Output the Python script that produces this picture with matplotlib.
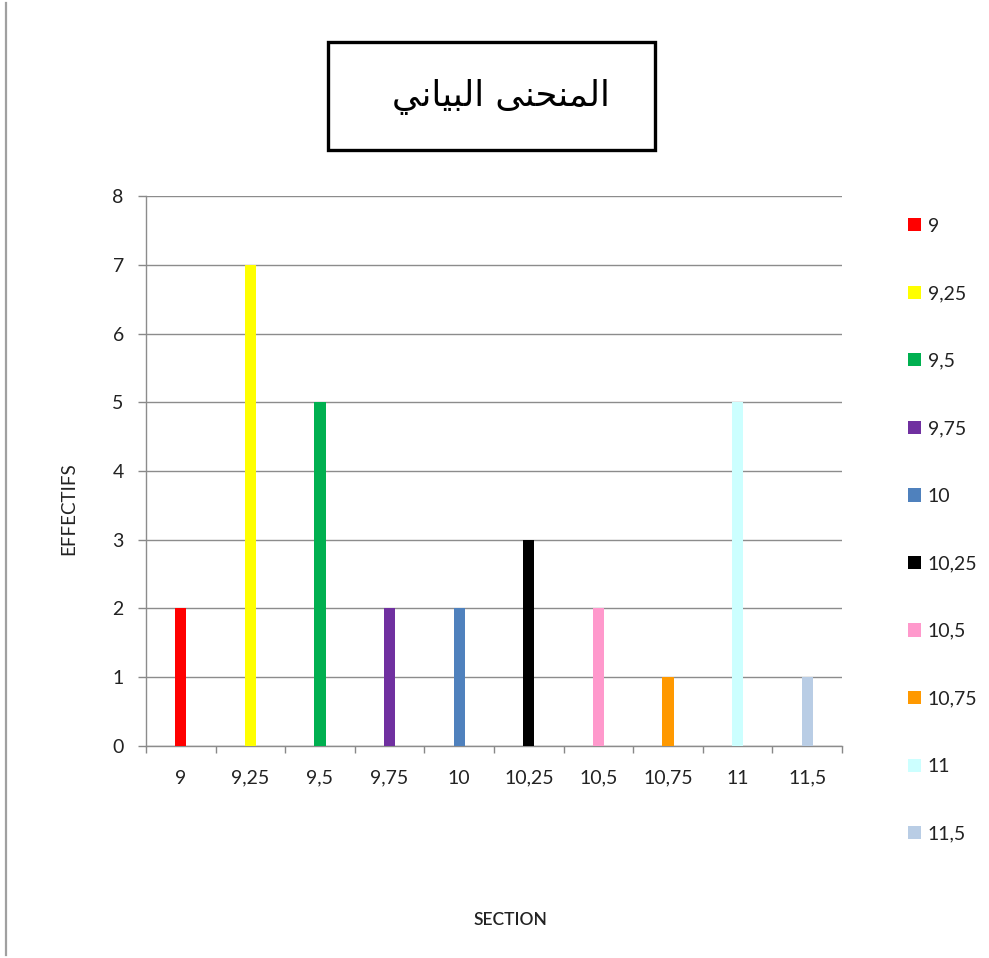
import matplotlib
matplotlib.use("Agg")
import matplotlib.pyplot as plt
from matplotlib.patches import Rectangle
from matplotlib.lines import Line2D

categories = ["9", "9,25", "9,5", "9,75", "10", "10,25", "10,5", "10,75", "11", "11,5"]
values = [2, 7, 5, 2, 2, 3, 2, 1, 5, 1]
colors = ["#FF0000", "#FFFF00", "#00B050", "#7030A0", "#4F81BD",
          "#000000", "#FF99CC", "#FF9900", "#CCFFFF", "#B9CDE5"]
y_ticks = [0, 1, 2, 3, 4, 5, 6, 7, 8]
title_logical = "المنحنى البياني"
x_label = "SECTION"
y_label = "EFFECTIFS"

# Hand-shaped Arabic title (presentation forms, visual order)
word1 = "\uFE8D\uFEDF\uFEE4\uFEE8\uFEA4\uFEE8\uFEF0"   # المنحنى
word2 = "\uFE8D\uFEDF\uFE92\uFEF4\uFE8E\uFEE7\uFEF2"   # البياني
title_visual = (word1 + " " + word2)[::-1]

font = "Lato"
fs = 14
fig = plt.figure(figsize=(9.89, 9.58), dpi=100)
ax = fig.add_axes([0.1476, 0.2213, 0.8514 - 0.1476, 0.7954 - 0.2213])

x = list(range(len(categories)))
bars = []
for i, (v, c, lab) in enumerate(zip(values, colors, categories)):
    b = ax.bar(i, v, width=0.16, color=c, label=lab, zorder=3)
    bars.append(b)

ax.set_xlim(-0.5, len(categories) - 0.5)
ax.set_ylim(0, 8)
ax.set_yticks(y_ticks)
ax.set_xticks(x)
ax.set_xticklabels(categories, fontfamily=font, fontsize=fs)
ax.set_yticklabels([str(t) for t in y_ticks], fontfamily=font, fontsize=fs)
ax.set_xticks([i - 0.5 for i in range(len(categories) + 1)], minor=True)
ax.tick_params(axis="x", which="major", length=0, pad=17, labelcolor="#222222")
ax.tick_params(axis="x", which="minor", length=5, color="#888888", width=1)
ax.tick_params(axis="y", length=6, color="#888888", width=1, pad=10, labelcolor="#222222")
ax.yaxis.grid(True, color="#8C8C8C", linewidth=1, zorder=0)
ax.set_axisbelow(True)
for s in ["top", "right"]:
    ax.spines[s].set_visible(False)
for s in ["left", "bottom"]:
    ax.spines[s].set_color("#8C8C8C")
    ax.spines[s].set_linewidth(1)

fig.text(510 / 989, 1 - 920 / 958, x_label, ha="center", va="center",
         fontfamily=font, fontsize=12.5, fontweight="semibold", color="#222222")
fig.text(69 / 989, 1 - 509 / 958, y_label, ha="center", va="center",
         rotation=90, fontfamily=font, fontsize=13.5, color="#222222")

leg = fig.legend(handles=[b[0] for b in bars], labels=categories,
                 loc="upper left", bbox_to_anchor=(890 / 989, 1 - 200 / 958),
                 frameon=False, handlelength=0.67, handleheight=0.67,
                 handletextpad=0.36, labelspacing=2.6,
                 prop={"family": font, "size": fs})
for t in leg.get_texts():
    t.set_color("#222222")

# Title box
fig.add_artist(Rectangle((328 / 989, 1 - 150 / 958), 327 / 989, 108 / 958,
                         transform=fig.transFigure, fill=False,
                         edgecolor="black", linewidth=2.4))
fig.text(501 / 989, 1 - 97 / 958, title_visual, ha="center", va="center",
         fontfamily="DejaVu Sans", fontsize=25.5, color="black")

# Left border line
fig.add_artist(Line2D([6 / 989, 6 / 989], [1 - 3 / 958, 1 - 955 / 958],
                      transform=fig.transFigure, color="#A0A0A0", linewidth=1.6))

fig.savefig("out.png", dpi=100, facecolor="white")
